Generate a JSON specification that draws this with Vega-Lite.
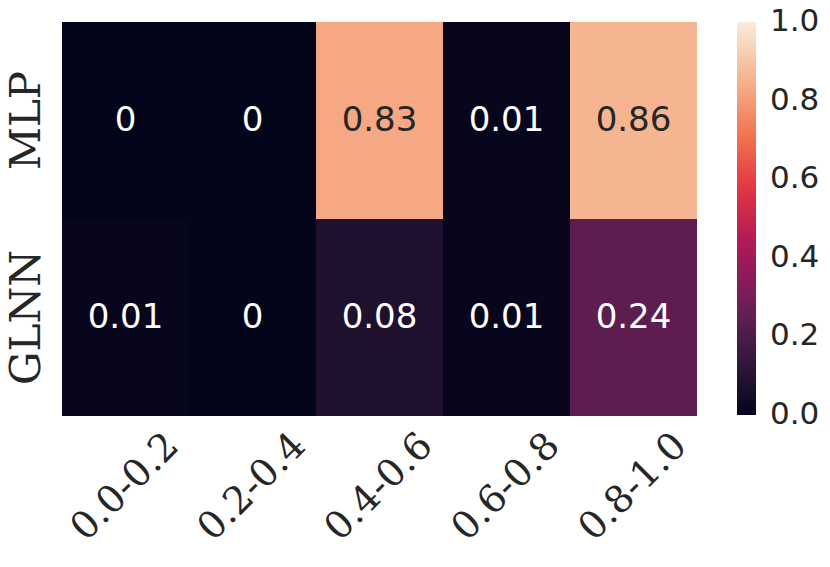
{
  "$schema": "https://vega.github.io/schema/vega-lite/v6.json",
  "autosize": {"type": "none"},
  "padding": {"left": 62, "top": 22, "right": 133, "bottom": 151},
  "width": 635,
  "height": 394,
  "background": "white",
  "config": {"view": {"stroke": null}},
  "data": {
    "values": [
      {"model": "MLP", "bin": "0.0-0.2", "value": 0},
      {"model": "MLP", "bin": "0.2-0.4", "value": 0},
      {"model": "MLP", "bin": "0.4-0.6", "value": 0.83},
      {"model": "MLP", "bin": "0.6-0.8", "value": 0.01},
      {"model": "MLP", "bin": "0.8-1.0", "value": 0.86},
      {"model": "GLNN", "bin": "0.0-0.2", "value": 0.01},
      {"model": "GLNN", "bin": "0.2-0.4", "value": 0},
      {"model": "GLNN", "bin": "0.4-0.6", "value": 0.08},
      {"model": "GLNN", "bin": "0.6-0.8", "value": 0.01},
      {"model": "GLNN", "bin": "0.8-1.0", "value": 0.24}
    ]
  },
  "encoding": {
    "x": {
      "field": "bin", "type": "nominal", "sort": null,
      "scale": {"paddingInner": 0, "paddingOuter": 0},
      "axis": {
        "title": null, "domain": false, "ticks": false, "grid": false,
        "labelAngle": -45, "labelAlign": "center", "labelBaseline": "middle",
        "labelPadding": 71, "labelFont": "DejaVu Serif", "labelFontSize": 38,
        "labelColor": "#262626", "labelOverlap": false
      }
    },
    "y": {
      "field": "model", "type": "nominal", "sort": ["MLP", "GLNN"],
      "scale": {"paddingInner": 0, "paddingOuter": 0},
      "axis": {
        "title": null, "domain": false, "ticks": false, "grid": false,
        "labelAngle": -90, "labelAlign": "center", "labelBaseline": "middle",
        "labelPadding": 36, "labelFont": "DejaVu Serif", "labelFontSize": 42,
        "labelColor": "#262626", "labelOverlap": false
      }
    }
  },
  "layer": [
    {
      "mark": {"type": "rect"},
      "encoding": {
        "color": {
          "field": "value", "type": "quantitative",
          "scale": {
            "domain": [0, 0.142857, 0.285714, 0.428571, 0.571429, 0.714286, 0.857143, 1],
            "range": ["#03051A", "#35193E", "#701F57", "#AD1759", "#E13342", "#F37651", "#F6B48F", "#FAEBDD"],
            "interpolate": "rgb"
          },
          "legend": {
            "orient": "none", "legendX": 675, "legendY": 0,
            "title": null, "direction": "vertical",
            "gradientLength": 393, "gradientThickness": 19, "gradientStrokeWidth": 0,
            "values": [0, 0.2, 0.4, 0.6, 0.8, 1.0], "format": ".1f",
            "labelFont": "DejaVu Sans", "labelFontSize": 31, "labelColor": "#262626",
            "labelOffset": 14, "labelBaseline": "middle", "labelOverlap": false,
            "encode": {"labels": {"update": {"baseline": {"value": "middle"}}}}
          }
        }
      }
    },
    {
      "mark": {"type": "text", "font": "DejaVu Sans", "fontSize": 34, "baseline": "middle", "align": "center"},
      "encoding": {
        "text": {"field": "value", "type": "quantitative", "format": ".2~f"},
        "color": {"condition": {"test": "datum.value > 0.5", "value": "#262626"}, "value": "white"}
      }
    }
  ]
}
